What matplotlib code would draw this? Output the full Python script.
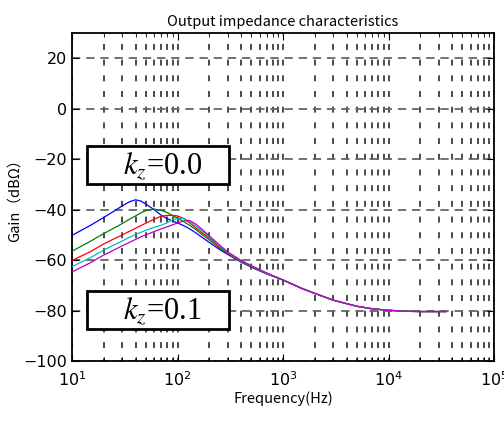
import matplotlib
matplotlib.use('Agg')
import matplotlib.pyplot as plt
from matplotlib.patches import Rectangle

# frequency points (Hz) below 1 kHz, where the five curves differ
freq_low = [10, 15, 20, 25, 30, 35, 40, 45, 50, 60, 70, 80, 90, 100,
            115, 130, 150, 175, 200, 250, 300, 400, 500, 700]
# gain (dB Ohm) of each curve at freq_low
gain_blue = [-50.2, -46.2, -43.1, -40.6, -38.5, -36.9, -36.1, -36.6, -37.8, -40.0,
             -42.2, -43.6, -44.5, -45.3, -46.4, -47.6, -49.3, -51.3, -53.0, -55.8,
             -57.8, -60.8, -62.8, -65.5]
gain_green = [-56.5, -52.5, -49.5, -47.3, -45.5, -43.8, -42.5, -41.3, -40.4, -39.8,
              -40.3, -41.2, -42.4, -43.4, -44.8, -46.2, -48.0, -50.2, -52.0, -55.2,
              -57.5, -60.6, -62.6, -65.4]
gain_red = [-60.2, -56.6, -53.6, -51.6, -50.0, -48.6, -47.4, -46.3, -45.4, -43.8,
            -42.6, -42.3, -42.3, -42.5, -43.6, -45.2, -47.3, -49.5, -51.3, -54.8,
            -57.3, -60.4, -62.4, -65.3]
gain_cyan = [-62.6, -59.0, -56.0, -54.0, -52.4, -51.0, -49.9, -49.0, -48.2, -47.0,
             -46.2, -45.2, -44.0, -43.5, -43.5, -44.6, -46.6, -48.8, -50.8, -54.4,
             -57.0, -60.3, -62.3, -65.2]
gain_magenta = [-64.7, -61.0, -58.0, -56.0, -54.3, -53.0, -51.8, -50.8, -50.0, -48.7,
                -47.6, -46.8, -46.0, -45.3, -44.5, -44.3, -45.8, -48.2, -50.4, -54.0,
                -56.8, -60.1, -62.2, -65.1]
# common high-frequency part shared by all curves
freq_tail = [1000, 1500, 2000, 3000, 5000, 7000, 10000, 15000, 20000, 35000]
gain_tail = [-67.9, -71.2, -73.2, -75.9, -78.3, -79.3, -79.9, -80.3, -80.4, -80.4]

curves = [gain_blue, gain_green, gain_red, gain_cyan, gain_magenta]
colours = ['#0000ff', '#008000', '#ff0000', '#00bfbf', '#bf00bf']
labels_kz = ['0.0', '0.1']

plt.rcParams['lines.scale_dashes'] = False
plt.rcParams['mathtext.fontset'] = 'stix'
plt.rcParams['font.family'] = ['DejaVu Sans']

fig = plt.figure(figsize=(5.04, 4.21), dpi=100)
ax = fig.add_axes([0.1429, 0.1425, 0.8373, 0.7791])

freq = freq_low + freq_tail
for g, c in zip(curves, colours):
    ax.semilogx(freq, g + gain_tail, color=c, linewidth=0.9, zorder=3)

ax.set_xlim(10, 1e5)
ax.set_ylim(-100, 30)
ax.set_yticks([-100, -80, -60, -40, -20, 0, 20])

# grid: grey long dashes for gain, dark short dashes for frequency
ax.grid(True, axis='y', which='major', color='0.4', linewidth=1.3,
        linestyle=(0, (6.0, 4.2)))
ax.grid(True, axis='x', which='both', color='0.1', linewidth=1.1,
        linestyle=(2, (4.3, 7.0)))
ax.set_axisbelow(True)

ax.tick_params(which='both', direction='in', top=True, right=True, labelsize=11.5)
ax.tick_params(which='major', length=5)
ax.tick_params(which='minor', length=3)
ax.tick_params(axis='x', which='major', pad=7)
for s in ax.spines.values():
    s.set_linewidth(1.3)

jp = ['Noto Sans CJK JP', 'DejaVu Sans']
ax.set_title('Output impedance characteristics', fontsize=10.5, family=jp, pad=5)
ax.set_xlabel('Frequency(Hz)', fontsize=10.5, family=jp, labelpad=1)
ax.set_ylabel('Gain（dBΩ）', fontsize=10.5, family=jp, labelpad=1)

# annotation boxes
for (y0, y1), lab in zip([(0.540, 0.655), (0.0976, 0.213)], labels_kz):
    ax.add_patch(Rectangle((0.0355, y0), 0.3365, y1 - y0, transform=ax.transAxes,
                           facecolor='white', edgecolor='black', linewidth=2.0,
                           zorder=4))
    ax.text(0.214, (y0 + y1) / 2 - 0.003, r'$k_z$=' + lab, transform=ax.transAxes,
            ha='center', va='center', fontsize=22, family='Liberation Serif',
            zorder=5)

fig.savefig('out.png', dpi=100)
